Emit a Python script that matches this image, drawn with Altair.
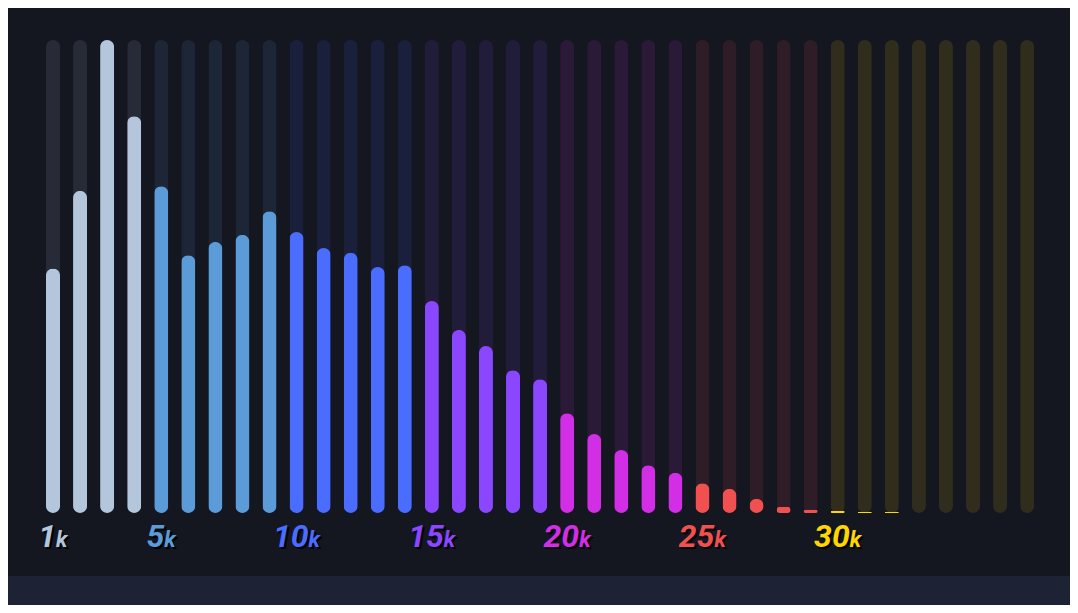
import altair as alt
import pandas as pd

# Price bins in thousands (1k .. 37k)
bins = list(range(1, 38))
# Relative frequency per bin (tallest = 100)
share = [51.7, 68.1, 100.0, 83.9, 69.1, 54.5, 57.3, 58.8, 63.8, 59.4,
         56.0, 55.0, 52.0, 52.4, 44.8, 38.7, 35.3, 30.2, 28.3, 21.1,
         16.7, 13.3, 10.1, 8.5, 6.3, 5.1, 3.0, 1.3, 0.7, 0.4,
         0.25, 0.25, 0, 0, 0, 0, 0]
# Colour groups start at these bins
band_starts = [1, 5, 10, 15, 20, 25, 30]
band_labels = ["1", "5", "10", "15", "20", "25", "30"]
band_colors = ["#b3c6dc", "#5b9bd8", "#4a6cff", "#8b47ff", "#d22ee6", "#f05050", "#ffd700"]

groups = []
for b in bins:
    g = band_labels[0]
    for s, lab in zip(band_starts, band_labels):
        if b >= s:
            g = lab
    groups.append(g)

df = pd.DataFrame({"bin": bins, "share": share, "group": groups, "full": [100.0] * len(bins)})
labels = pd.DataFrame({"bin": band_starts, "num": band_labels, "group": band_labels,
                       "unit": ["k"] * len(band_starts)})

xscale = alt.Scale(domain=bins, paddingInner=0.4826, paddingOuter=0.2413)
yscale = alt.Scale(domain=[0, 100])
x = alt.X("bin:O", scale=xscale, axis=None)
color = alt.Color("group:N", scale=alt.Scale(domain=band_labels, range=band_colors), legend=None)

footer = alt.Chart(pd.DataFrame({"a": [0]})).mark_rect(color="#1e2235").encode(
    x=alt.value(-40), x2=alt.value(1050), y=alt.value(536), y2=alt.value(570)
)

tracks = alt.Chart(df).mark_bar(cornerRadius=7, opacity=0.12).encode(
    x=x, y=alt.Y("full:Q", scale=yscale, axis=None), color=color
)
bars = alt.Chart(df).mark_bar(cornerRadius=7).encode(
    x=x, y=alt.Y("share:Q", scale=yscale, axis=None), color=color
)

font = "Roboto"
NUM_SIZE = 32
K_SIZE = 22


def label_layers(filt, dxn, dxk):
    base = alt.Chart(labels).transform_filter(filt)
    common = dict(font=font, fontStyle="italic", fontWeight="bold", baseline="alphabetic")
    sh_n = base.mark_text(align="right", dx=dxn + 2, dy=36, fontSize=NUM_SIZE, color="#000000",
                          opacity=0.85, **common).encode(x=x, y=alt.datum(0), text="num:N")
    sh_k = base.mark_text(align="left", dx=dxk + 2, dy=36, fontSize=K_SIZE, color="#000000",
                          opacity=0.85, **common).encode(x=x, y=alt.datum(0), text="unit:N")
    t_n = base.mark_text(align="right", dx=dxn, dy=34, fontSize=NUM_SIZE, **common).encode(
        x=x, y=alt.datum(0), text="num:N", color=color)
    t_k = base.mark_text(align="left", dx=dxk, dy=34, fontSize=K_SIZE, **common).encode(
        x=x, y=alt.datum(0), text="unit:N", color=color)
    return [sh_n, sh_k, t_n, t_k]


layers = [footer, tracks, bars]
layers += label_layers("length(datum.num) == 1", 3, 3)
layers += label_layers("length(datum.num) == 2", 12, 12)

chart = alt.layer(*layers).properties(
    width=1001.2,
    height=473,
    autosize="none",
    padding={"left": 31.47, "top": 32, "right": 29.33, "bottom": 92},
    background="#141620",
).configure_view(stroke=None)

chart.save("out.html", embed_options={"renderer": "svg", "actions": False})
